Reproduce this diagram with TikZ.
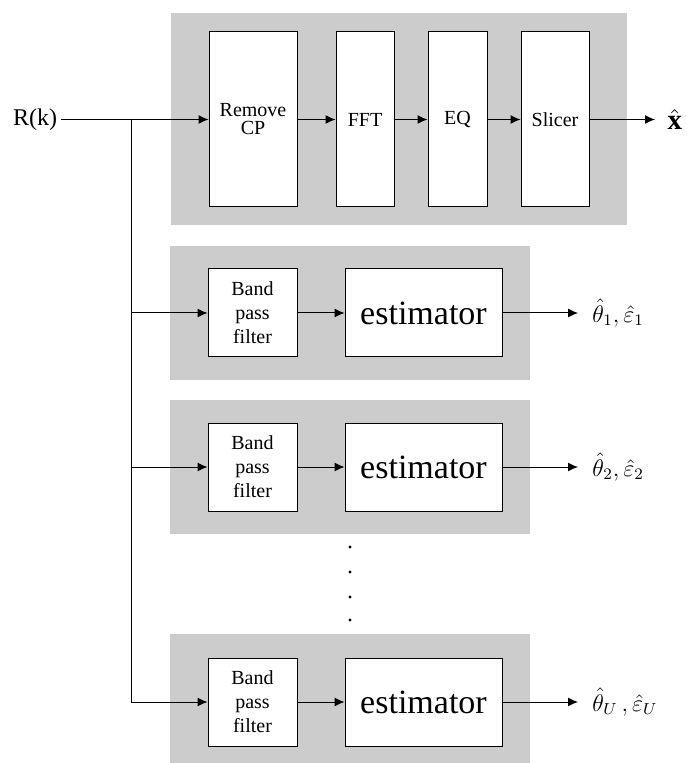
\documentclass[tikz,border=0pt]{standalone}
\usepackage{fontspec}
\setmainfont{Liberation Serif}
\usetikzlibrary{arrows.meta,positioning}

\begin{document}
\begin{tikzpicture}[
  x=0.5pt,y=-0.5pt,
  box/.style={draw,fill=white,line width=0.5pt,align=center,inner sep=0pt,font=\fontsize{10}{12}\selectfont},
  tallbox/.style={box,minimum height=87.5pt},
  bpfbox/.style={box,minimum width=44.5pt,minimum height=44pt},
  estbox/.style={box,minimum width=78.5pt,minimum height=44pt,font=\fontsize{17}{20}\selectfont},
  panel/.style={fill=gray!40},
  arrow/.style={-{Latex[length=5pt,width=4.5pt]},line width=0.5pt},
  outlabel/.style={inner sep=0pt,font=\large}
]
\useasboundingbox (0,0) rectangle (686,763);
% receiver chain
\fill[panel] (171,13) rectangle (627,225);
\node[tallbox,minimum width=44pt] (rmcp) at (253,119.5) {Remove\\[-3pt]CP};
\node[tallbox,minimum width=29pt] (fft) at (365,119.5) {FFT};
\node[tallbox,minimum width=29.5pt] (eq) at (457.5,119.5) {EQ};
\node[tallbox,minimum width=34pt] (slicer) at (555,119.5) {Slicer};
\node[inner sep=2pt,font=\fontsize{12}{14}\selectfont] (rk) at (35,119.5) {R(k)};
\coordinate (split) at (131,119.5);
\coordinate (xout) at (655,119.5);
\draw[arrow] (rk)--(rmcp);
\draw[arrow] (rmcp)--(fft);
\draw[arrow] (fft)--(eq);
\draw[arrow] (eq)--(slicer);
\draw[arrow] (slicer)--(xout) node[anchor=west,inner sep=0pt,xshift=6pt,font=\Large] (xhat) {$\hat{\mathbf{x}}$};
% per-user estimators
\foreach \i/\yc/\ytop/\ybot/\lbl in {1/313/246/380/{\hat{\theta}_1,\hat{\varepsilon}_1},
    2/467/400/534/{\hat{\theta}_2,\hat{\varepsilon}_2},
    3/702/634/763/{\hat{\theta}_U\,,\hat{\varepsilon}_U}}{
  \fill[panel] (170,\ytop) rectangle (530,\ybot);
  \node[bpfbox] (bpf\i) at (252.5,\yc) {Band\\pass\\filter};
  \node[estbox] (est\i) at (423.5,\yc) {estimator};
  \coordinate (out\i) at (578,\yc);
  \node[outlabel,right=7pt of out\i] (th\i) {$\lbl$};
  \draw[arrow] (split)|-(bpf\i);
  \draw[arrow] (bpf\i)--(est\i);
  \draw[arrow] (est\i)--(out\i);
}
% dots
\foreach \y in {547,572,597,620}
  \fill (350,\y) circle[radius=0.8pt];
\end{tikzpicture}
\end{document}
